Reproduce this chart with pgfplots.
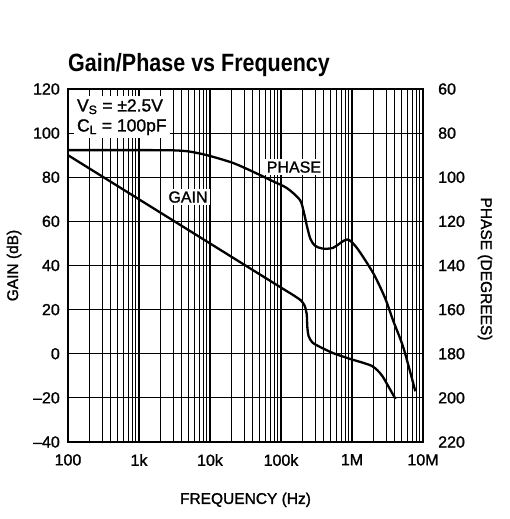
\documentclass[border=0pt]{standalone}
\usepackage{fontspec}
\setmainfont{Liberation Sans}
\newfontfamily\medfont{Liberation Sans}[UprightFeatures={FakeBold=1.3}]
\newfontfamily\titlefont{Liberation Sans}[FakeStretch=0.86]
\usepackage{pgfplots}
\pgfplotsset{compat=1.18}
\begin{document}
\begin{tikzpicture}
\begin{axis}[
  width=355pt, height=353pt, scale only axis,
  at={(0,0)}, anchor=south west,
  xmode=log, xmin=100, xmax=10000000,
  major tick length=0pt, minor tick length=0pt,
  tick label style={font=\medfont\fontsize{16}{18}\selectfont},
  clip=false,
  ymin=-40, ymax=120,
  ytick={-40,-20,0,20,40,60,80,100,120},
  yticklabels={–40,–20,0,20,40,60,80,100,120},
  xtick={100,1000,10000,100000,1000000,10000000},
  xticklabels={100,1k,10k,100k,1M,10M},
  xmajorgrids, xminorgrids, ymajorgrids,
  major grid style={black, line width=1.1pt},
  minor grid style={black, line width=0.75pt},
  axis line style={black, line width=1.4pt},
  yticklabel style={inner sep=0pt, xshift=-8pt},
  xticklabel style={inner sep=0pt, yshift=-12pt},
  every axis y label/.style={at={(axis description cs:-0.152,0.5)}, rotate=90, anchor=center},
  every axis x label/.style={at={(axis description cs:0.5,-0.164)}, anchor=center},
  ylabel={GAIN (dB)},
  xlabel={FREQUENCY (Hz)},
  label style={font=\medfont\fontsize{15.5}{18}\selectfont},
]
\addplot[black, line width=2.3pt, smooth, tension=0.45] coordinates {
 (100,90) (1000,70) (10000,50) (100000,30) (150000,26.5) (190000,24.2)
 (215000,21.8) (230000,18) (235000,12) (245000,8) (275000,5.2) (330000,3.6)
 (540000,0.3) (930000,-2.3) (1400000,-4) (1900000,-5.5) (2300000,-7.6) (2700000,-10.3) (3100000,-13.6) (4100000,-20.5)
};
\node[fill=white, inner sep=3pt, anchor=north west, align=left,
      font=\medfont\fontsize{17.5}{20}\selectfont] at (axis cs:121,116.8)
  {V\textsubscript{S} = ±2.5V\\C\textsubscript{L} = 100pF};
\node[fill=white, inner sep=2pt, font=\medfont\fontsize{16}{18}\selectfont] at (axis cs:4900,71) {GAIN};
\node[fill=white, inner sep=2pt, font=\medfont\fontsize{16}{18}\selectfont] at (axis cs:152000,84.6) {PHASE};
\node[anchor=base west, inner sep=0pt, font=\titlefont\bfseries\fontsize{25}{28}\selectfont]
  at ([yshift=17pt]rel axis cs:0,1) {Gain/Phase vs Frequency};
\coordinate (ll) at (rel axis cs:0,0);
\end{axis}
\begin{axis}[
  width=355pt, height=353pt, scale only axis,
  at={(0,0)}, anchor=south west,
  xmode=log, xmin=100, xmax=10000000,
  major tick length=0pt, minor tick length=0pt,
  tick label style={font=\medfont\fontsize{16}{18}\selectfont},
  clip=false,
  ymin=60, ymax=220, y dir=reverse,
  ytick={60,80,100,120,140,160,180,200,220},
  yticklabels={60,80,100,120,140,160,180,200,220},
  axis x line=none, axis y line*=right,
  axis line style={black, line width=2.6pt},
  yticklabel style={inner sep=0pt, xshift=15pt},
  every axis y label/.style={at={(axis description cs:1.1746,0.49)}, rotate=-90, anchor=center},
  ylabel={PHASE (DEGREES)},
  label style={font=\medfont\fontsize{15.5}{18}\selectfont},
]
\addplot[black, line width=2.3pt, smooth, tension=0.45] coordinates {
 (100,87.7) (1000,87.7) (3000,87.8) (5000,88.3) (9100,90) (21000,93.5) (41000,97.6)
 (71000,101.3) (121000,104.9) (185000,110.3) (210000,116) (234000,122.7) (260000,128)
 (300000,131) (380000,132.3) (540000,132) (850000,128.2) (1170000,132) (2000000,143.6)
 (2900000,154.5) (3800000,165) (5300000,177.3) (7800000,197)
};
\end{axis}
\path (ll) ++(-68pt,-77pt) rectangle ++(509pt,519pt);
\end{tikzpicture}
\end{document}
